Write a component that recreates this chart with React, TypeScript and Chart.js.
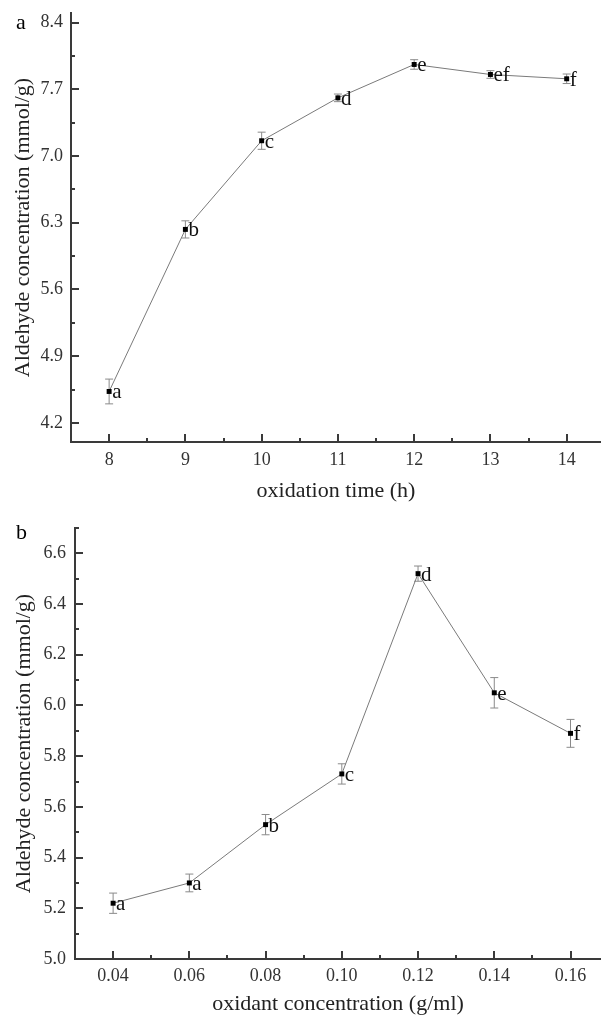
import React, { useEffect, useRef } from "react";
import { Chart, registerables } from "chart.js";

Chart.register(...registerables);

// ---- Panel a: oxidation time ----
const timeHours = [8, 9, 10, 11, 12, 13, 14];
const aldehydeByTime = [4.53, 6.23, 7.16, 7.61, 7.96, 7.855, 7.81];
const errByTime = [0.13, 0.09, 0.09, 0.04, 0.05, 0.04, 0.05];
const lettersByTime = ["a", "b", "c", "d", "e", "ef", "f"];
const yTicksA = [4.2, 4.9, 5.6, 6.3, 7.0, 7.7, 8.4];
const yMinorA = [4.55, 5.25, 5.95, 6.65, 7.35, 8.05];
const xTicksA = [8, 9, 10, 11, 12, 13, 14];
const xMinorA = [8.5, 9.5, 10.5, 11.5, 12.5, 13.5];

// ---- Panel b: oxidant concentration ----
const oxidantConc = [0.04, 0.06, 0.08, 0.1, 0.12, 0.14, 0.16];
const aldehydeByConc = [5.22, 5.3, 5.53, 5.73, 6.52, 6.05, 5.89];
const errByConc = [0.04, 0.035, 0.04, 0.04, 0.03, 0.06, 0.055];
const lettersByConc = ["a", "a", "b", "c", "d", "e", "f"];
const yTicksB = [5.0, 5.2, 5.4, 5.6, 5.8, 6.0, 6.2, 6.4, 6.6];
const yMinorB = [5.1, 5.3, 5.5, 5.7, 5.9, 6.1, 6.3, 6.5, 6.7];
const xTicksB = [0.04, 0.06, 0.08, 0.1, 0.12, 0.14, 0.16];
const xMinorB = [0.05, 0.07, 0.09, 0.11, 0.13, 0.15];

const FONT = "'Liberation Serif', 'Times New Roman', serif";
const AXIS_COLOR = "#3a3a3a";

type PanelCfg = {
  panel: string;
  xs: number[];
  ys: number[];
  errs: number[];
  letters: string[];
  xMin: number;
  xMax: number;
  yMin: number;
  yMax: number;
  xTicks: number[];
  xMinor: number[];
  yTicks: number[];
  yMinor: number[];
  xDigits: number;
  xTitle: string;
  yAxisWidth: number;
  xAxisHeight: number;
  topPad: number;
  yTitlePad: number;
  xTitlePad: number;
  yTickPad: number;
  xTickPad: number;
};

function makeChart(canvas: HTMLCanvasElement, c: PanelCfg) {
  const decor = {
    id: "decor",
    beforeDatasetsDraw(chart: any) {
      const ctx = chart.ctx;
      const xs = chart.scales.x;
      const ys = chart.scales.y;
      ctx.save();
      ctx.strokeStyle = "#8a8a8a";
      ctx.lineWidth = 1;
      c.xs.forEach((xv, i) => {
        const px = xs.getPixelForValue(xv);
        const top = ys.getPixelForValue(c.ys[i] + c.errs[i]);
        const bot = ys.getPixelForValue(c.ys[i] - c.errs[i]);
        ctx.beginPath();
        ctx.moveTo(px, top);
        ctx.lineTo(px, bot);
        ctx.moveTo(px - 4, top);
        ctx.lineTo(px + 4, top);
        ctx.moveTo(px - 4, bot);
        ctx.lineTo(px + 4, bot);
        ctx.stroke();
      });
      ctx.restore();
    },
    afterDatasetsDraw(chart: any) {
      const ctx = chart.ctx;
      const xs = chart.scales.x;
      const ys = chart.scales.y;
      const area = chart.chartArea;
      ctx.save();
      // point letters
      ctx.fillStyle = "#111";
      ctx.font = `21px ${FONT}`;
      ctx.textAlign = "left";
      ctx.textBaseline = "alphabetic";
      c.xs.forEach((xv, i) => {
        const px = xs.getPixelForValue(xv);
        const py = ys.getPixelForValue(c.ys[i]);
        ctx.fillText(c.letters[i], px + 3, py + 7);
      });
      // inward ticks
      ctx.strokeStyle = AXIS_COLOR;
      ctx.lineWidth = 2;
      ctx.beginPath();
      const xTick = (v: number, len: number) => {
        const p = Math.round(xs.getPixelForValue(v));
        ctx.moveTo(p, area.bottom);
        ctx.lineTo(p, area.bottom - len);
      };
      const yTick = (v: number, len: number) => {
        const p = Math.round(ys.getPixelForValue(v));
        ctx.moveTo(area.left, p);
        ctx.lineTo(area.left + len, p);
      };
      c.xTicks.forEach((v) => xTick(v, 8));
      c.xMinor.forEach((v) => xTick(v, 4));
      c.yTicks.forEach((v) => yTick(v, 8));
      c.yMinor.forEach((v) => yTick(v, 4));
      ctx.stroke();
      // panel letter
      ctx.fillStyle = "#000";
      ctx.font = `22px ${FONT}`;
      ctx.fillText(c.panel, 16, 29);
      ctx.restore();
    },
  };

  return new Chart(canvas, {
    type: "line",
    data: {
      datasets: [
        {
          data: c.xs.map((x, i) => ({ x, y: c.ys[i] })),
          borderColor: "#7a7a7a",
          borderWidth: 1,
          pointStyle: "rect",
          pointRadius: 3.5,
          pointBackgroundColor: "#000",
          pointBorderWidth: 0,
          tension: 0,
          fill: false,
          clip: false,
        },
      ],
    },
    options: {
      responsive: false,
      animation: false,
      devicePixelRatio: 1,
      layout: {
        autoPadding: false,
        padding: { top: c.topPad, right: 0, left: 0, bottom: 0 },
      },
      plugins: {
        legend: { display: false },
        tooltip: { enabled: false },
      },
      scales: {
        x: {
          type: "linear",
          min: c.xMin,
          max: c.xMax,
          afterBuildTicks: (s: any) => {
            s.ticks = c.xTicks.map((v) => ({ value: v }));
          },
          afterFit: (s: any) => {
            s.height = c.xAxisHeight;
            s.paddingLeft = 0;
            s.paddingRight = 0;
            s.paddingTop = 0;
            s.paddingBottom = 0;
          },
          grid: { display: false, drawTicks: false },
          border: { display: true, color: AXIS_COLOR, width: 2 },
          ticks: {
            autoSkip: false,
            maxRotation: 0,
            padding: c.xTickPad,
            color: "#333",
            font: { family: FONT, size: 18 },
            callback: (v: any) => Number(v).toFixed(c.xDigits),
          },
          title: {
            display: true,
            text: c.xTitle,
            color: "#222",
            font: { family: FONT, size: 22 },
            padding: { top: 0, bottom: c.xTitlePad },
          },
        },
        y: {
          type: "linear",
          min: c.yMin,
          max: c.yMax,
          afterBuildTicks: (s: any) => {
            s.ticks = c.yTicks.map((v) => ({ value: v }));
          },
          afterFit: (s: any) => {
            s.width = c.yAxisWidth;
            s.paddingLeft = 0;
            s.paddingRight = 0;
            s.paddingTop = 0;
            s.paddingBottom = 0;
          },
          grid: { display: false, drawTicks: false },
          border: { display: true, color: AXIS_COLOR, width: 2 },
          ticks: {
            autoSkip: false,
            padding: c.yTickPad,
            color: "#333",
            font: { family: FONT, size: 18 },
            callback: (v: any) => Number(v).toFixed(1),
          },
          title: {
            display: true,
            text: "Aldehyde concentration (mmol/g)",
            color: "#222",
            font: { family: FONT, size: 22 },
            padding: { top: c.yTitlePad, bottom: 0 },
          },
        },
      },
    } as any,
    plugins: [decor],
  });
}

const panelA: PanelCfg = {
  panel: "a",
  xs: timeHours,
  ys: aldehydeByTime,
  errs: errByTime,
  letters: lettersByTime,
  xMin: 7.5,
  xMax: 14.45,
  yMin: 4.0,
  yMax: 8.5,
  xTicks: xTicksA,
  xMinor: xMinorA,
  yTicks: yTicksA,
  yMinor: yMinorA,
  xDigits: 0,
  xTitle: "oxidation time (h)",
  yAxisWidth: 71,
  xAxisHeight: 68,
  topPad: 13,
  yTitlePad: 10,
  xTitlePad: 6,
  yTickPad: 8,
  xTickPad: 7,
};

const panelB: PanelCfg = {
  panel: "b",
  xs: oxidantConc,
  ys: aldehydeByConc,
  errs: errByConc,
  letters: lettersByConc,
  xMin: 0.03,
  xMax: 0.168,
  yMin: 5.0,
  yMax: 6.7,
  xTicks: xTicksB,
  xMinor: xMinorB,
  yTicks: yTicksB,
  yMinor: yMinorB,
  xDigits: 2,
  xTitle: "oxidant concentration (g/ml)",
  yAxisWidth: 75,
  xAxisHeight: 61,
  topPad: 18,
  yTitlePad: 11,
  xTitlePad: 3,
  yTickPad: 9,
  xTickPad: 6,
};

export default function App() {
  const refA = useRef<HTMLCanvasElement | null>(null);
  const refB = useRef<HTMLCanvasElement | null>(null);

  useEffect(() => {
    const a = makeChart(refA.current as HTMLCanvasElement, panelA);
    const b = makeChart(refB.current as HTMLCanvasElement, panelB);
    return () => {
      a.destroy();
      b.destroy();
    };
  }, []);

  return (
    <div
      style={{
        position: "absolute",
        left: 0,
        top: 0,
        width: 601,
        height: 1020,
        background: "#fff",
        overflow: "hidden",
      }}
    >
      <canvas
        ref={refA}
        width={601}
        height={510}
        style={{ position: "absolute", left: 0, top: 0, width: 601, height: 510 }}
      />
      <canvas
        ref={refB}
        width={601}
        height={510}
        style={{ position: "absolute", left: 0, top: 510, width: 601, height: 510 }}
      />
    </div>
  );
}
